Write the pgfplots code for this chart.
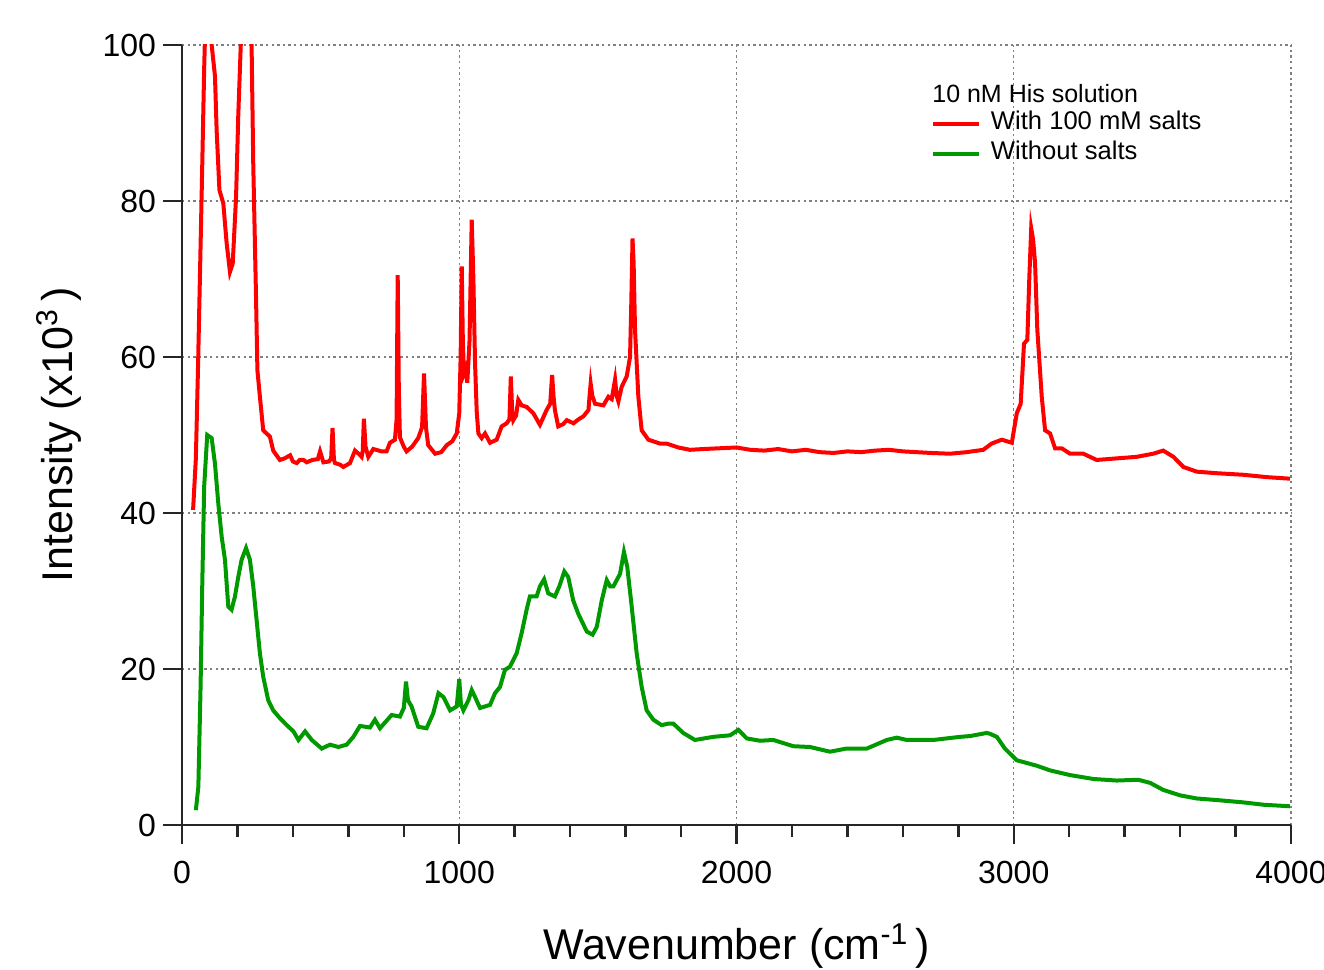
\documentclass[border=0pt]{standalone}
\usepackage{pgfplots}
\pgfplotsset{compat=1.18}
\usepackage{fontspec}
\setmainfont{Liberation Sans}
\definecolor{myred}{RGB}{255,0,0}
\definecolor{mygreen}{RGB}{0,153,0}
\begin{document}
\begin{tikzpicture}
\useasboundingbox (-91pt,-72.5pt) rectangle (571pt,412.5pt);
\begin{axis}[
  scale only axis,
  width=554.5pt, height=390pt,
  xmin=0, xmax=4000, ymin=0, ymax=100,
  axis x line=bottom, axis y line=left,
  axis line style={-, line width=1.3pt, black!85},
  tick align=outside,
  xtick={0,1000,2000,3000,4000},
  ytick={0,20,40,60,80,100},
  minor x tick num=4,
  major tick length=9.5pt, minor tick length=6pt,
  every tick/.style={black!85, line width=1.2pt},
  grid=major,
  major grid style={gray, line width=0.7pt, dash pattern=on 1.2pt off 1.6pt},
  /pgf/number format/assume math mode=true,
  /pgf/number format/set thousands separator={},
  ticklabel style={font=\fontsize{16}{19}\selectfont},
  xticklabel style={yshift=-5pt},
  xlabel={Wavenumber (cm\textsuperscript{-1}\,)},
  ylabel={Intensity (x10\textsuperscript{3}\,)},
  label style={font=\fontsize{21.5}{25}\selectfont},
  xlabel style={at={(axis description cs:0.5,-0.173)}, anchor=base},
  ylabel style={at={(axis description cs:-0.099,0.5)}, anchor=base},
  legend style={at={(axis cs:2700,91.9)}, anchor=north west, draw=none, fill=none,
    font=\fontsize{12.8}{15}\selectfont, row sep=0pt, column sep=3.5pt, inner sep=0pt,
    nodes={inner sep=1.5pt, text height=9pt, text depth=3pt}},
  legend cell align=left,
  legend image code/.code={\draw[#1] (0pt,0pt) -- (23pt,0pt);},
  clip=true,
]
\addplot[myred, line width=2pt] coordinates {
(40,40.4) (50,47) (58,59) (71,81) (80,97) (88,108) (100,112) (107,100) (113,98) (119,96)
(125,89) (135,81.4) (149,79.7) (161,74.6) (173,70.9) (183,72) (195,80.5) (203,91) (212,100)
(222,120) (235,135) (245,115) (251,100) (257,84.8) (267,67.7) (272,58.3) (281,54.9) (293,50.6)
(305,50.2) (317,49.8) (329,48) (353,46.8) (370,47) (390,47.4) (400,46.6) (414,46.4) (425,46.8)
(438,46.8) (450,46.5) (470,46.8) (490,46.9) (498,47.9) (510,46.5) (530,46.6) (538,47) (543,50.9)
(548,46.8) (552,46.4) (570,46.2) (582,45.9) (606,46.4) (624,48) (640,47.5) (648,47.2) (652,48)
(656,52.1) (662,48.5) (672,47.2) (690,48.2) (720,47.9) (738,47.9) (750,49) (768,49.4) (774,52)
(778,70.5) (782,56) (786,49.7) (800,48.5) (810,47.9) (830,48.5) (852,49.6) (866,51) (873,57.9)
(880,51) (888,48.7) (913,47.6) (935,47.8) (955,48.7) (975,49.2) (991,50.2) (1000,52.8) (1005,60)
(1009,71.6) (1013,62) (1017,57.9) (1023,58.5) (1029,56.7) (1037,62) (1045,77.6) (1051,70)
(1057,59.2) (1063,53) (1069,50.2) (1081,49.6) (1093,50.2) (1111,49) (1135,49.4) (1153,51.1)
(1171,51.5) (1181,52) (1186,57.5) (1191,53) (1195,51.9) (1205,52.5) (1213,54.5) (1225,53.8)
(1243,53.6) (1267,52.8) (1291,51.3) (1315,53.2) (1328,54) (1335,57.7) (1340,55) (1345,53.2)
(1357,51.1) (1375,51.4) (1388,51.9) (1412,51.5) (1430,52) (1448,52.4) (1466,53.2) (1470,55)
(1474,56.6) (1480,55) (1490,54) (1520,53.8) (1538,54.9) (1550,54.6) (1562,57.1) (1568,55)
(1574,54.3) (1586,56.2) (1604,57.5) (1616,60) (1620,66) (1625,75.2) (1629,72) (1634,63.5)
(1646,54.9) (1658,50.6) (1682,49.4) (1724,48.9) (1748,48.9) (1790,48.4) (1832,48.1) (1880,48.2)
(1940,48.3) (2000,48.4) (2050,48.1) (2100,48) (2150,48.2) (2200,47.9) (2250,48.1) (2300,47.8)
(2350,47.7) (2400,47.9) (2450,47.8) (2500,48) (2550,48.1) (2600,47.9) (2650,47.8) (2700,47.7)
(2770,47.6) (2830,47.8) (2890,48.1) (2920,48.9) (2957,49.4) (2993,49) (3011,52.8) (3025,54)
(3037,61.7) (3049,62.2) (3056,70) (3063,76.5) (3070,75) (3077,72) (3085,63.5) (3101,54.9)
(3113,50.6) (3131,50.2) (3149,48.3) (3173,48.3) (3203,47.6) (3251,47.6) (3299,46.8) (3371,47)
(3443,47.2) (3503,47.6) (3539,48) (3576,47.2) (3612,45.9) (3660,45.3) (3732,45.1) (3828,44.9)
(3912,44.6) (3996,44.4)
};
\addlegendentry{With 100 mM salts}
\addplot[mygreen, line width=2pt] coordinates {
(50,1.9) (59,4.9) (67,17.7) (73,30.6) (80,43.4) (91,50) (107,49.6) (119,46.3) (131,41.2) (143,37)
(155,34) (167,28) (179,27.6) (191,29.3) (203,31.8) (215,34) (231,35.5) (245,34) (257,30.6)
(269,26.3) (281,22) (293,19) (311,16) (329,14.7) (353,13.7) (378,12.8) (402,12) (420,10.9)
(444,12) (468,10.9) (504,9.8) (534,10.3) (564,10) (594,10.3) (618,11.3) (642,12.7) (678,12.5)
(696,13.5) (714,12.4) (756,14.1) (786,13.9) (800,15) (808,18.4) (815,16) (828,15.2) (852,12.6)
(882,12.4) (906,14.3) (925,16.9) (943,16.4) (967,14.7) (991,15.2) (1000,18.7) (1006,15.5)
(1015,14.7) (1033,16) (1045,17.3) (1057,16.4) (1075,15) (1111,15.4) (1129,16.9) (1147,17.7)
(1165,19.9) (1183,20.3) (1207,22) (1225,24.6) (1243,27.6) (1255,29.3) (1279,29.3) (1291,30.6)
(1306,31.5) (1321,29.7) (1345,29.3) (1361,30.6) (1379,32.5) (1393,31.8) (1411,28.8) (1429,27.1)
(1460,24.8) (1481,24.4) (1496,25.4) (1514,28.8) (1532,31.4) (1544,30.6) (1556,30.6) (1580,32.2)
(1594,35) (1606,33.1) (1622,28) (1640,22) (1658,17.7) (1676,14.7) (1700,13.5) (1730,12.8)
(1754,13) (1772,13) (1808,11.8) (1850,10.9) (1916,11.3) (1977,11.5) (2007,12.2) (2037,11.1)
(2085,10.8) (2133,10.9) (2205,10.1) (2265,10) (2337,9.4) (2397,9.8) (2470,9.8) (2542,10.9)
(2578,11.2) (2614,10.9) (2710,10.9) (2806,11.3) (2842,11.4) (2902,11.8) (2914,11.7) (2939,11.3)
(2968,9.8) (3011,8.3) (3083,7.6) (3131,7) (3203,6.4) (3287,5.9) (3371,5.7) (3449,5.8) (3492,5.4)
(3539,4.5) (3600,3.8) (3660,3.4) (3732,3.2) (3828,2.9) (3900,2.6) (3996,2.4)
};
\addlegendentry{Without salts}
\node[anchor=west, inner sep=0pt, font=\fontsize{12.5}{15}\selectfont] at (axis cs:2705,93.8) {10 nM His solution};
\end{axis}
\end{tikzpicture}
\end{document}
